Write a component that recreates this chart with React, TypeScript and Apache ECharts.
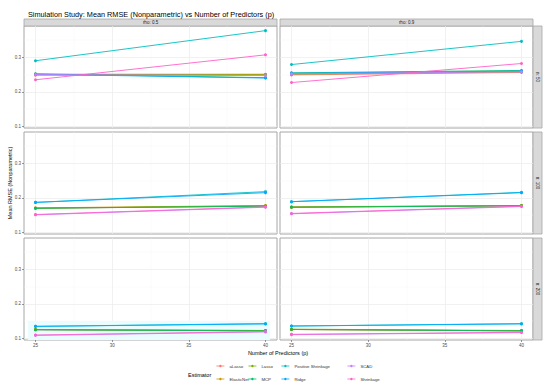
import React, { useEffect, useRef } from "react";
import * as echarts from "echarts";

// ---------- data ----------
const estimators = ["aLasso", "ElasticNet", "Lasso", "MCP", "Positive Shrinkage", "Ridge", "SCAD", "Shrinkage"];
const pValues = [25, 40];
const rhoLabels = ["rho: 0.5", "rho: 0.9"];
const nLabels = ["n: 50", "n: 100", "n: 200"];
const xTicks = [25, 30, 35, 40];
const yTicks = [0.1, 0.2, 0.3];

// panels in order: (n50,rho.5), (n50,rho.9), (n100,rho.5), (n100,rho.9), (n200,rho.5), (n200,rho.9); values at p = 25, 40
const aLasso = [[0.248, 0.25], [0.249, 0.256], [0.17, 0.176], [0.173, 0.177], [0.125, 0.123], [0.126, 0.122]];
const elasticNet = [[0.251, 0.251], [0.251, 0.258], [0.171, 0.178], [0.174, 0.178], [0.126, 0.122], [0.126, 0.122]];
const lasso = [[0.25, 0.249], [0.252, 0.259], [0.17, 0.177], [0.173, 0.178], [0.126, 0.123], [0.127, 0.123]];
const mcp = [[0.252, 0.241], [0.255, 0.262], [0.17, 0.176], [0.173, 0.177], [0.125, 0.122], [0.126, 0.122]];
const positiveShrinkage = [[0.29, 0.377], [0.279, 0.346], [0.187, 0.218], [0.189, 0.216], [0.135, 0.143], [0.136, 0.143]];
const ridge = [[0.251, 0.24], [0.254, 0.26], [0.187, 0.215], [0.189, 0.215], [0.135, 0.142], [0.136, 0.142]];
const scad = [[0.25, 0.247], [0.252, 0.258], [0.151, 0.173], [0.154, 0.175], [0.109, 0.119], [0.111, 0.117]];
const shrinkage = [[0.235, 0.307], [0.227, 0.282], [0.152, 0.174], [0.155, 0.176], [0.11, 0.12], [0.112, 0.118]];
const seriesValues = [aLasso, elasticNet, lasso, mcp, positiveShrinkage, ridge, scad, shrinkage];

// ---------- styles ----------
const palette = ["#F8766D", "#CD9600", "#7CAE00", "#00BE67", "#00BFC4", "#00A9FF", "#C77CFF", "#FF61CC"];
const FONT = "Liberation Sans, Arial, sans-serif";
const colLeft = [24, 280];
const colWidth = 253;
const rowTop = [26, 132, 238];
const rowHeight = 102;
const X_MIN = 24.25, X_MAX = 40.75;
const Y_MIN = 0.0956, Y_MAX = 0.3904;

export default function App() {
  const ref = useRef<HTMLDivElement>(null);
  useEffect(() => {
    if (!ref.current) return;
    const chart = echarts.init(ref.current, undefined, { renderer: "svg" });
    const grids: any[] = [];
    const xAxes: any[] = [];
    const yAxes: any[] = [];
    const series: any[] = [];
    for (let r = 0; r < 3; r++) {
      for (let c = 0; c < 2; c++) {
        const idx = r * 2 + c;
        grids.push({
          left: colLeft[c], top: rowTop[r], width: colWidth, height: rowHeight,
          show: true, borderColor: "#a6a6a6", borderWidth: 1, backgroundColor: "#fff",
        });
        xAxes.push({
          gridIndex: idx, type: "value", min: X_MIN, max: X_MAX, splitNumber: 3,
          axisLine: { show: false },
          axisTick: { show: r === 2, length: 2, customValues: xTicks, lineStyle: { color: "#555", width: 0.6 } },
          axisLabel: { show: r === 2, customValues: xTicks, fontSize: 4.5, color: "#4d4d4d", margin: 3, fontFamily: FONT, formatter: (v: number) => String(v) },
          splitLine: { show: true, lineStyle: { color: "#ebebeb", width: 0.7 } },
          minorTick: { show: false, splitNumber: 2 },
          minorSplitLine: { show: true, lineStyle: { color: "#f4f4f4", width: 0.4 } },
        });
        yAxes.push({
          gridIndex: idx, type: "value", min: Y_MIN, max: Y_MAX, splitNumber: 3,
          axisLine: { show: false },
          axisTick: { show: c === 0, length: 2, customValues: yTicks, lineStyle: { color: "#555", width: 0.6 } },
          axisLabel: { show: c === 0, customValues: yTicks, fontSize: 4.5, color: "#4d4d4d", margin: 3, fontFamily: FONT, formatter: (v: number) => v.toFixed(1) },
          splitLine: { show: true, lineStyle: { color: "#ebebeb", width: 0.7 } },
          minorTick: { show: false, splitNumber: 2 },
          minorSplitLine: { show: true, lineStyle: { color: "#f4f4f4", width: 0.4 } },
        });
        estimators.forEach((name, e) => {
          const s: any = {
            type: "line", name, xAxisIndex: idx, yAxisIndex: idx,
            data: pValues.map((p, i) => [p, seriesValues[e][idx][i]]),
            symbol: "circle", symbolSize: 3, showSymbol: true,
            lineStyle: { width: 0.9, color: palette[e] },
            itemStyle: { color: palette[e] },
            z: 2 + e, silent: true,
          };
          if (idx === 4 && e === 4) {
            s.markArea = {
              silent: true,
              itemStyle: { color: "#eafcfd" },
              data: [[{ coord: [24.5, Y_MIN] }, { coord: [40.3, 0.1505] }]],
            };
          }
          series.push(s);
        });
      }
    }

    const legendPos = [
      [216, 364], [216, 377], [248, 364], [248, 377],
      [281, 364], [281, 377], [347, 364], [347, 377],
    ];
    const legends = estimators.map((name, e) => ({
      data: [name], left: legendPos[e][0], top: legendPos[e][1],
      itemWidth: 8, itemHeight: 3, selectedMode: false, padding: 0,
      lineStyle: { width: 0.8 },
      textStyle: { fontSize: 4.3, color: "#333", fontFamily: FONT },
    }));

    const graphics: any[] = [];
    rhoLabels.forEach((t, c) => {
      graphics.push({ type: "rect", shape: { x: colLeft[c], y: 19, width: colWidth, height: 7 }, style: { fill: "#d9d9d9", stroke: "#a6a6a6", lineWidth: 0.8 } });
      graphics.push({ type: "text", x: colLeft[c] + colWidth / 2, y: 22.5, style: { text: t, fontSize: 4.5, fill: "#1a1a1a", align: "center", verticalAlign: "middle", fontFamily: FONT } });
    });
    nLabels.forEach((t, r) => {
      graphics.push({ type: "rect", shape: { x: 533, y: rowTop[r], width: 9, height: rowHeight }, style: { fill: "#d9d9d9", stroke: "#a6a6a6", lineWidth: 0.8 } });
      graphics.push({ type: "text", x: 537.5, y: rowTop[r] + rowHeight / 2, rotation: -Math.PI / 2, style: { text: t, fontSize: 4.5, fill: "#1a1a1a", align: "center", verticalAlign: "middle", fontFamily: FONT } });
    });
    graphics.push({ type: "text", x: 10, y: 183, rotation: Math.PI / 2, style: { text: "Mean RMSE (Nonparametric)", fontSize: 5.5, fill: "#000", align: "center", verticalAlign: "middle", fontFamily: FONT } });
    graphics.push({ type: "text", x: 278, y: 353, style: { text: "Number of Predictors (p)", fontSize: 5.5, fill: "#000", align: "center", verticalAlign: "middle", fontFamily: FONT } });
    graphics.push({ type: "text", x: 188, y: 375, style: { text: "Estimator", fontSize: 5.5, fill: "#000", align: "left", verticalAlign: "middle", fontFamily: FONT } });

    chart.setOption({
      animation: false,
      backgroundColor: "#fff",
      textStyle: { fontFamily: FONT },
      title: { text: "Simulation Study: Mean RMSE (Nonparametric) vs Number of Predictors (p)", left: 23, top: 6, textStyle: { fontSize: 7.3, fontWeight: "normal", color: "#000", fontFamily: FONT } },
      grid: grids, xAxis: xAxes, yAxis: yAxes, series, legend: legends, graphic: graphics,
    });
    return () => chart.dispose();
  }, []);
  return <div ref={ref} style={{ position: "fixed", left: 0, top: 0, width: 550, height: 391, background: "#fff" }} />;
}
